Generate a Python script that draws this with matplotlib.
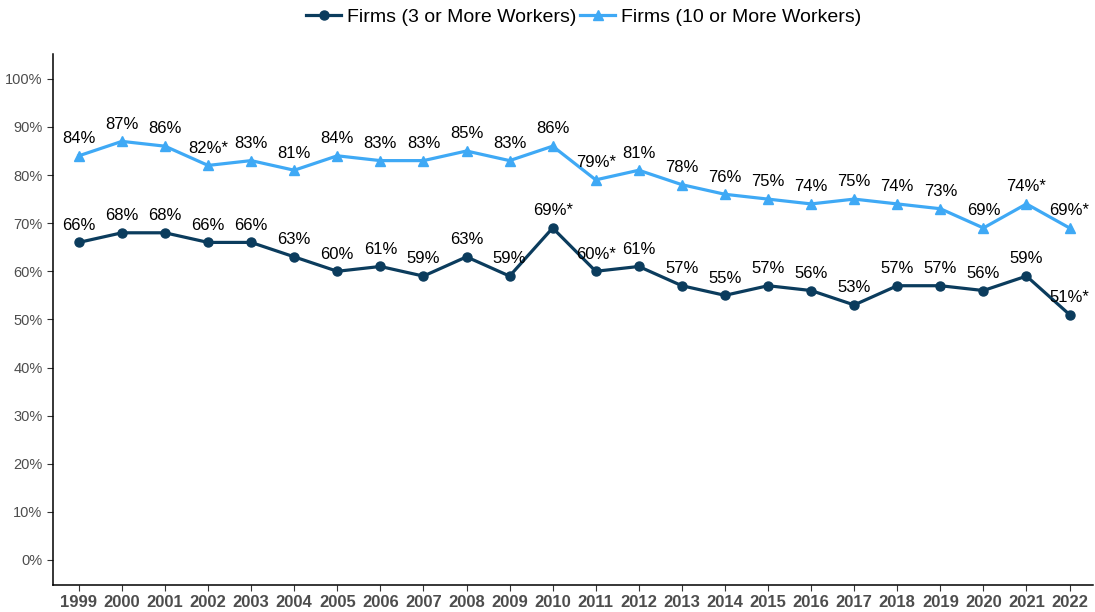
"""Share of firms offering health benefits, 1999-2022."""

import matplotlib

matplotlib.use("Agg")
import matplotlib.pyplot as plt
from matplotlib.ticker import PercentFormatter

plt.rcParams["font.family"] = ["Liberation Sans", "DejaVu Sans"]

YEARS = list(range(1999, 2023))
FIRMS_3_PLUS = [66, 68, 68, 66, 66, 63, 60, 61, 59, 63, 59, 69,
                60, 61, 57, 55, 57, 56, 53, 57, 57, 56, 59, 51]
FIRMS_10_PLUS = [84, 87, 86, 82, 83, 81, 84, 83, 83, 85, 83, 86,
                 79, 81, 78, 76, 75, 74, 75, 74, 73, 69, 74, 69]
STARRED_3_PLUS = {2010, 2011, 2022}
STARRED_10_PLUS = {2002, 2011, 2021, 2022}

SERIES = [
    ("Firms (3 or More Workers)", FIRMS_3_PLUS, STARRED_3_PLUS, "#0b3c5d", "o"),
    ("Firms (10 or More Workers)", FIRMS_10_PLUS, STARRED_10_PLUS, "#3fa9f5", "^"),
]


def main() -> int:
    fig = plt.figure(figsize=(10.95, 6.12), dpi=100)
    ax = fig.add_axes([0.0484, 0.0441, 0.95, 0.868])

    for label, values, starred, color, marker in SERIES:
        ax.plot(YEARS, values, color=color, lw=2.3, marker=marker,
                markersize=6.5, label=label)
        for year, value in zip(YEARS, values):
            text = f"{value}%" + ("*" if year in starred else "")
            ax.annotate(text, (year, value), xytext=(0, 7), textcoords="offset points",
                        ha="center", va="bottom", fontsize=12, color="black")

    ax.set_xlim(YEARS[0] - 0.6, YEARS[-1] + 0.55)
    ax.set_ylim(-5.2, 105.2)
    ax.set_yticks(range(0, 101, 10))
    ax.yaxis.set_major_formatter(PercentFormatter(decimals=0))
    ax.set_xticks(YEARS)
    ax.set_xticklabels([str(y) for y in YEARS], fontweight="bold", fontsize=12,
                       color="#4d4d4d")
    ax.tick_params(axis="y", labelsize=10.5, labelcolor="#4d4d4d", length=4,
                   color="#333333")
    ax.tick_params(axis="x", length=4, color="#333333", pad=3)

    for side in ("top", "right"):
        ax.spines[side].set_visible(False)
    for side in ("left", "bottom"):
        ax.spines[side].set_linewidth(1.1)
        ax.spines[side].set_color("black")

    fig.legend(loc="upper center", bbox_to_anchor=(0.533, 1.015), ncol=2, frameon=False,
               fontsize=14, handlelength=1.8, handletextpad=0.3, columnspacing=0.2)

    fig.savefig("out.png", dpi=100)
    plt.close(fig)
    return 0


if __name__ == "__main__":
    raise SystemExit(main())
